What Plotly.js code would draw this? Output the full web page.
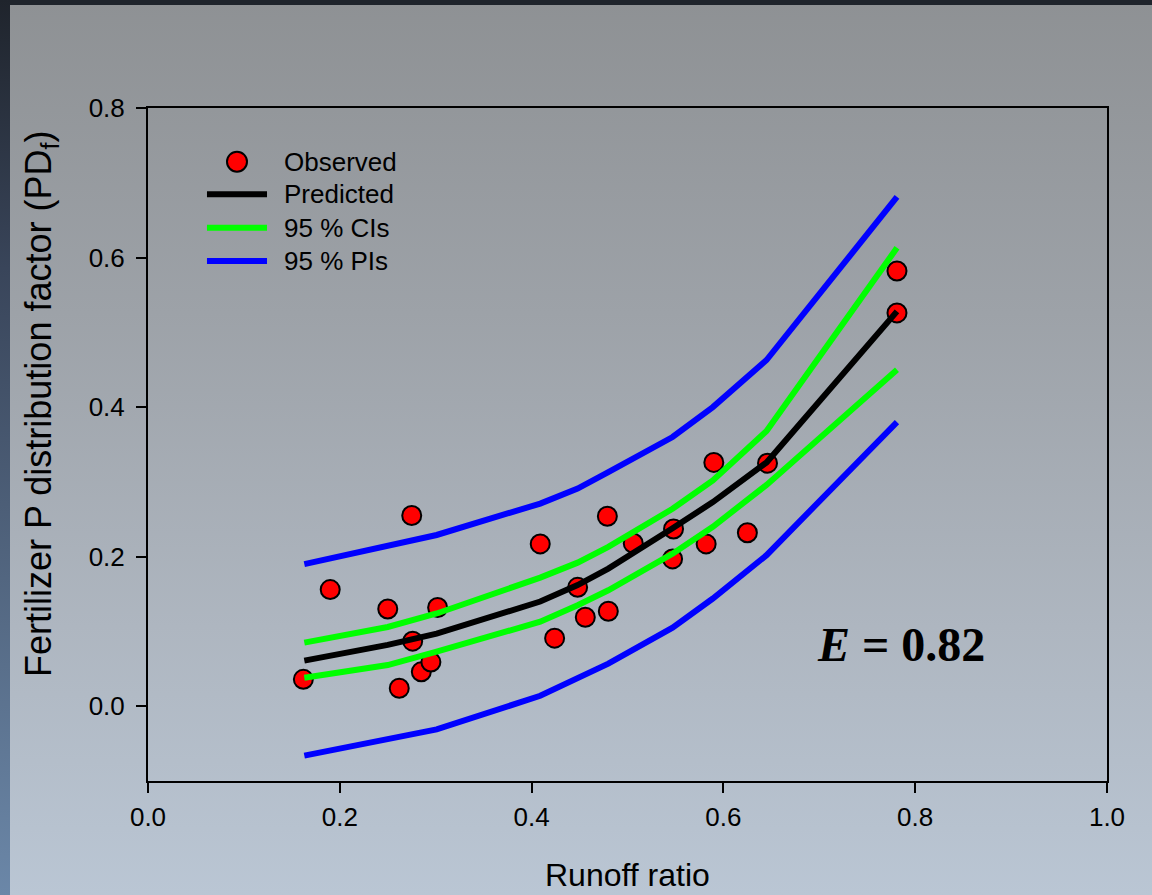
<!DOCTYPE html>
<html>
<head>
<meta charset="utf-8">
<script src="https://cdn.plot.ly/plotly-3.0.1.min.js"></script>
<style>
  html, body { margin: 0; padding: 0; }
  #frame {
    position: relative; width: 1152px; height: 895px; overflow: hidden;
    background: linear-gradient(to bottom, #8e9194 0%, #9da2a8 35%, #aeb6c0 70%, #bac6d4 100%);
  }
  #topband { position: absolute; left: 0; top: 0; width: 1152px; height: 5px; background: #1f242c; }
  #leftband {
    position: absolute; left: 0; top: 0; width: 10px; height: 895px;
    background: linear-gradient(to bottom, #1f242c 0%, #39455a 30%, #566b86 70%, #6b87a8 100%);
  }
  #chart { position: absolute; left: 0; top: 0; width: 1152px; height: 895px; }
</style>
</head>
<body>
<div id="frame">
  <div id="topband"></div>
  <div id="leftband"></div>
  <div id="chart"></div>
</div>
<script>
// Observed P distribution factor against runoff ratio
const obsX = [0.162, 0.190, 0.250, 0.262, 0.275, 0.276, 0.285, 0.295, 0.302, 0.409, 0.424, 0.448,
              0.456, 0.479, 0.480, 0.506, 0.547, 0.548, 0.582, 0.590, 0.625, 0.646, 0.781, 0.781];
const obsY = [0.036, 0.156, 0.130, 0.024, 0.255, 0.087, 0.046, 0.059, 0.132, 0.217, 0.091, 0.159,
              0.119, 0.254, 0.127, 0.218, 0.197, 0.237, 0.217, 0.326, 0.232, 0.325, 0.582, 0.526];

// Model curve and its bands, evaluated at the runoff ratios below
const curveX    = [0.163, 0.250, 0.301, 0.409, 0.448, 0.480, 0.547, 0.589, 0.645, 0.781];
const predicted = [0.061, 0.082, 0.097, 0.140, 0.162, 0.184, 0.238, 0.273, 0.326, 0.528];
const ciUpper   = [0.085, 0.106, 0.124, 0.172, 0.192, 0.213, 0.264, 0.302, 0.368, 0.613];
const ciLower   = [0.038, 0.055, 0.073, 0.113, 0.135, 0.155, 0.204, 0.240, 0.296, 0.450];
const piUpper   = [0.190, 0.214, 0.229, 0.271, 0.291, 0.313, 0.360, 0.400, 0.463, 0.681];
const piLower   = [-0.066, -0.045, -0.031, 0.014, 0.037, 0.057, 0.105, 0.144, 0.202, 0.380];

const seriesNames = ['Observed', 'Predicted', '95 % CIs', '95 % PIs'];
const seriesColors = ['#ff0000', '#000000', '#00ff00', '#0000ff'];

const xTickVals = [0, 0.2, 0.4, 0.6, 0.8, 1.0];
const xTickText = ['0.0', '0.2', '0.4', '0.6', '0.8', '1.0'];
const yTickVals = [0, 0.2, 0.4, 0.6, 0.8];
const yTickText = ['0.0', '0.2', '0.4', '0.6', '0.8'];

const efficiency = '0.82';

const SANS = 'Liberation Sans, Arial, sans-serif';
const SERIF = 'Liberation Serif, Times New Roman, serif';
const LW = 6;

function bandLine(y, color, name) {
  return { x: curveX, y: y, mode: 'lines', name: name, showlegend: false, hoverinfo: 'skip',
           line: { color: color, width: LW, shape: 'linear' } };
}

const traces = [
  { x: obsX, y: obsY, mode: 'markers', name: seriesNames[0], showlegend: false,
    marker: { size: 19, color: seriesColors[0], line: { color: '#000000', width: 2 } } },
  bandLine(predicted, seriesColors[1], seriesNames[1]),
  bandLine(ciUpper, seriesColors[2], seriesNames[2]),
  bandLine(ciLower, seriesColors[2], seriesNames[2]),
  bandLine(piUpper, seriesColors[3], seriesNames[3]),
  bandLine(piLower, seriesColors[3], seriesNames[3])
];

// Hand-drawn key in the upper left corner of the plot area
const keyX0 = 0.0615, keyX1 = 0.1241, keyMarkX = 0.0928, keyTextX = 0.1395;
const keyRows = [0.9202, 0.8718, 0.8221, 0.7727];
const shapes = [
  { type: 'circle', xref: 'paper', yref: 'paper', xsizemode: 'pixel', ysizemode: 'pixel',
    xanchor: keyMarkX, yanchor: keyRows[0], x0: -10, x1: 10, y0: -10, y1: 10,
    fillcolor: seriesColors[0], line: { color: '#000000', width: 2 } }
];
for (let i = 1; i < 4; i++) {
  shapes.push({ type: 'line', xref: 'paper', yref: 'paper', x0: keyX0, x1: keyX1,
                y0: keyRows[i], y1: keyRows[i], line: { color: seriesColors[i], width: LW } });
}
const annotations = seriesNames.map((n, i) => ({
  text: n, xref: 'paper', yref: 'paper', x: keyTextX, y: keyRows[i],
  xanchor: 'left', yanchor: 'middle', showarrow: false,
  font: { family: SANS, size: 26, color: '#000000' }
}));

annotations.push({
  text: 'Fertilizer P distribution factor (PD<sub>f</sub>)', xref: 'paper', yref: 'paper',
  x: -0.1115, y: 0.5602, xanchor: 'center', yanchor: 'middle', textangle: -90, showarrow: false,
  font: { family: SANS, size: 36, color: '#000000' }
});
annotations.push({
  text: 'Runoff ratio', xref: 'paper', yref: 'paper', x: 0.5, y: -0.1397,
  xanchor: 'center', yanchor: 'middle', showarrow: false,
  font: { family: SANS, size: 32, color: '#000000' }
});
annotations.push({
  text: '<b><i>E</i> = ' + efficiency + '</b>', xref: 'paper', yref: 'paper',
  x: 0.785, y: 0.2021, xanchor: 'center', yanchor: 'middle', showarrow: false,
  font: { family: SERIF, size: 48, color: '#000000' }
});

const axisCommon = {
  showline: true, mirror: true, linecolor: '#000000', linewidth: 2,
  ticks: 'outside', ticklen: 10, tickwidth: 2, tickcolor: '#000000',
  showgrid: false, zeroline: false,
  tickfont: { family: SANS, size: 26, color: '#000000' }
};

const layout = {
  width: 1152, height: 895,
  margin: { l: 148, r: 45, t: 108, b: 114, pad: 0 },
  paper_bgcolor: 'rgba(0,0,0,0)', plot_bgcolor: 'rgba(0,0,0,0)',
  showlegend: false,
  xaxis: Object.assign({}, axisCommon, { range: [0, 1], tickvals: xTickVals, ticktext: xTickText,
                                        ticklabelstandoff: 2 }),
  yaxis: Object.assign({}, axisCommon, { range: [-0.1, 0.8], tickvals: yTickVals, ticktext: yTickText,
                                        ticklabelstandoff: 6 }),
  shapes: shapes,
  annotations: annotations
};

Plotly.newPlot('chart', traces, layout, { displayModeBar: false, staticPlot: true });
</script>
</body>
</html>
